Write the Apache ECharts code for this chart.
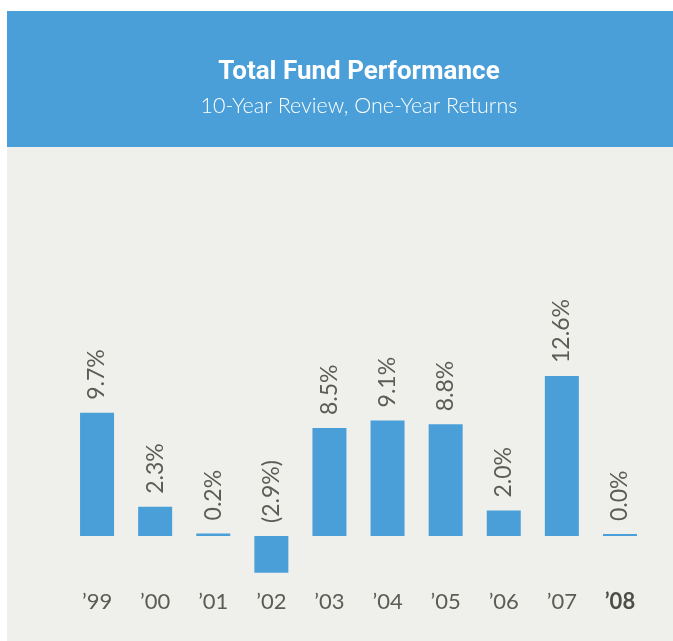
<!DOCTYPE html>
<html>
<head>
<meta charset="utf-8">
<script src="https://cdn.jsdelivr.net/npm/echarts@6/dist/echarts.min.js"></script>
<style>
  html, body { margin: 0; padding: 0; background: #ffffff; }
  #chart { width: 673px; height: 641px; }
</style>
</head>
<body>
<div id="chart"></div>
<script>
const titleText = 'Total Fund Performance';
const subtitleText = '10-Year Review, One-Year Returns';
const years = ['’99', '’00', '’01', '’02', '’03', '’04', '’05', '’06', '’07', '’08'];
const returns = [9.7, 2.3, 0.2, -2.9, 8.5, 9.1, 8.8, 2.0, 12.6, 0.0];
const highlightYear = '’08';

const BLUE = '#4a9fd8';
const GRAY_BG = '#efefeb';
const TEXT = '#5c5c56';
const LABEL_FONT = 'Lato, "Liberation Sans", sans-serif';

const chart = echarts.init(document.getElementById('chart'));
chart.setOption({
  backgroundColor: '#ffffff',
  animation: false,
  graphic: [
    { type: 'rect', left: 7, top: 11, shape: { width: 666, height: 630 }, style: { fill: GRAY_BG }, z: -10 },
    { type: 'rect', left: 7, top: 11, shape: { width: 666, height: 136 }, style: { fill: BLUE }, z: -9 }
  ],
  title: {
    text: titleText,
    subtext: subtitleText,
    left: 354,
    textAlign: 'center',
    top: 54,
    itemGap: 10,
    textStyle: { color: '#ffffff', fontSize: 26, fontWeight: 'bold', fontFamily: '"Roboto", sans-serif' },
    subtextStyle: { color: '#ffffff', fontSize: 21.5, fontWeight: 300, fontFamily: 'Lato, sans-serif' }
  },
  grid: { left: 68, right: 24, top: 332.8, bottom: 54.2 },
  xAxis: {
    type: 'category',
    data: years,
    axisLine: { show: false, onZero: false },
    axisTick: { show: false },
    axisLabel: {
      interval: 0,
      margin: 4,
      color: TEXT,
      fontSize: 22,
      fontWeight: 'normal',
      fontFamily: LABEL_FONT,
      formatter: function (v) { return v === highlightYear ? '{b|' + v + '}' : v; },
      rich: { b: { fontWeight: 'bold', fontSize: 22, color: '#4e4e48', fontFamily: LABEL_FONT } }
    }
  },
  yAxis: { type: 'value', min: -4, max: 16, show: false, splitLine: { show: false } },
  series: [{
    type: 'bar',
    data: returns,
    barWidth: 34,
    barMinHeight: 2,
    itemStyle: { color: BLUE },
    label: {
      show: true,
      position: 'top',
      rotate: 90,
      align: 'left',
      verticalAlign: 'middle',
      distance: 13,
      color: TEXT,
      fontSize: 23,
      fontWeight: 'normal',
      fontFamily: LABEL_FONT,
      formatter: function (p) {
        const v = p.value;
        return v < 0 ? '(' + Math.abs(v).toFixed(1) + '%)' : v.toFixed(1) + '%';
      }
    }
  }]
});
</script>
</body>
</html>
